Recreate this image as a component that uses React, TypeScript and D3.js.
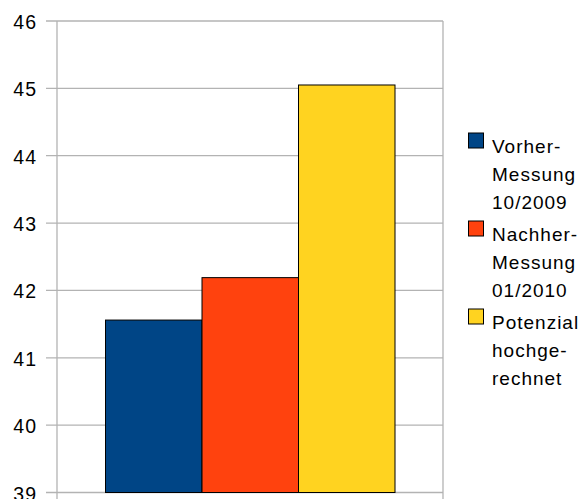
import React from "react";
import * as d3 from "d3";

const categories = ["Vorher-Messung 10/2009", "Nachher-Messung 01/2010", "Potenzial hochgerechnet"];
const values = [41.56, 42.19, 45.05];
const colors = ["#004586", "#ff420e", "#ffd320"];
const legendLines = [
  ["Vorher-", "Messung", "10/2009"],
  ["Nachher-", "Messung", "01/2010"],
  ["Potenzial", "hochge-", "rechnet"],
];
const yTicks = [39, 40, 41, 42, 43, 44, 45, 46];

const W = 587;
const H = 499;

export default function App() {
  const plotLeft = 57;
  const plotRight = 443;
  const y = d3.scaleLinear().domain([39, 46]).range([492.5, 21]);
  const x = d3.scaleBand().domain(categories).range([105.5, 395]).paddingInner(0).paddingOuter(0);
  const font = "'Liberation Sans', Arial, sans-serif";
  return (
    <svg width={W} height={H} style={{ position: "absolute", left: 0, top: 0, background: "#fff" }}>
      <rect x={0} y={0} width={W} height={H} fill="#fff" />
      {yTicks.map((t) => (
        <g key={t}>
          <line x1={46} x2={plotRight} y1={y(t)} y2={y(t)} stroke="#b3b3b3" strokeWidth={1.3} />
          <text x={37} y={y(t) + 8} textAnchor="end" fontFamily={font} fontSize={19.5} letterSpacing={1} fill="#000">
            {t}
          </text>
        </g>
      ))}
      <line x1={plotLeft} x2={plotLeft} y1={y(46)} y2={H + 10} stroke="#b3b3b3" strokeWidth={1.3} />
      <line x1={plotRight} x2={plotRight} y1={y(46)} y2={H + 10} stroke="#b3b3b3" strokeWidth={1.3} />
      {categories.map((c, i) => (
        <rect
          key={c}
          x={x(c)}
          y={y(values[i])}
          width={x.bandwidth()}
          height={y(39) - y(values[i])}
          fill={colors[i]}
          stroke="#000"
          strokeWidth={1}
        />
      ))}
      {legendLines.map((lines, i) => (
        <g key={i}>
          <rect x={468.5} y={133 + i * 88} width={15} height={15} fill={colors[i]} stroke="#000" strokeWidth={1} />
          {lines.map((l, j) => (
            <text key={j} x={492} y={153 + i * 88 + j * 28} fontFamily={font} fontSize={19} letterSpacing={1} fill="#000">
              {l}
            </text>
          ))}
        </g>
      ))}
    </svg>
  );
}
